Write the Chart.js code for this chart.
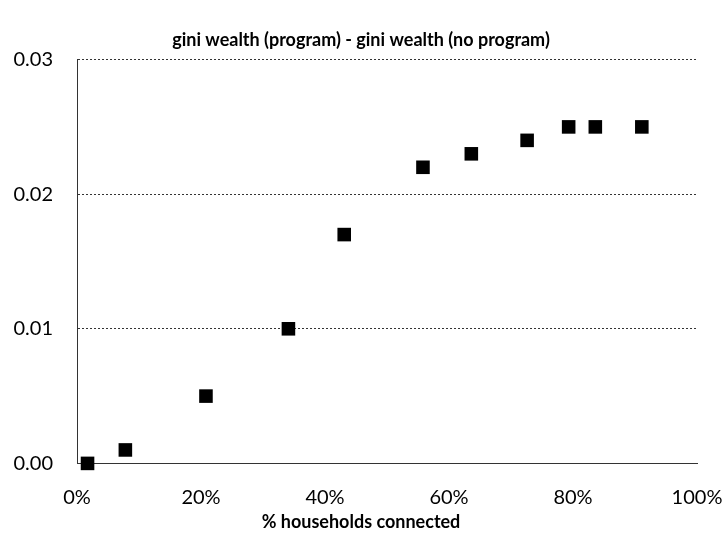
<!DOCTYPE html>
<html>
<head>
<meta charset="utf-8">
<script src="https://cdn.jsdelivr.net/npm/chart.js@4"></script>
<style>
  html, body { margin: 0; padding: 0; background: #fff; }
  #wrap { width: 723px; height: 536px; }
</style>
</head>
<body>
<div id="wrap"><canvas id="giniChart" width="723" height="536"></canvas></div>
<script>
// share of households connected vs change in wealth gini
let pctConnected = [0.017, 0.078, 0.208, 0.341, 0.431, 0.558, 0.636, 0.726, 0.793, 0.836, 0.911];
let giniDiff = [0.0, 0.001, 0.005, 0.010, 0.017, 0.022, 0.023, 0.024, 0.025, 0.025, 0.025];
let xTicks = [0, 0.2, 0.4, 0.6, 0.8, 1.0];
let yTicks = [0, 0.01, 0.02, 0.03];

let points = pctConnected.map((x, i) => ({ x: x, y: giniDiff[i] }));

let font = "Lato, 'Open Sans', sans-serif";

let ctx = document.getElementById('giniChart').getContext('2d');
let chart = new Chart(ctx, {
    type: 'scatter',
    data: {
        datasets: [{
            data: points,
            pointStyle: 'rect',
            pointRadius: 9.6,
            pointHoverRadius: 9.6,
            backgroundColor: '#000',
            borderColor: '#000',
            borderWidth: 0,
            clip: false
        }]
    },
    options: {
        responsive: false,
        animation: false,
        layout: { padding: { top: 29, left: 0, right: 1, bottom: 0 } },
        plugins: {
            legend: { display: false },
            tooltip: { enabled: false },
            title: {
                display: true,
                text: 'gini wealth (program) - gini wealth (no program)',
                color: '#000',
                font: { family: font, size: 18, weight: 'bold' },
                padding: { top: 0, bottom: 9 }
            },
            // x axis title, kept as a bottom subtitle so it centres on the canvas like the original
            subtitle: {
                display: true,
                position: 'bottom',
                text: '% households connected',
                color: '#000',
                font: { family: font, size: 18, weight: 'bold' },
                padding: { top: 0, bottom: 3 }
            }
        },
        scales: {
            x: {
                type: 'linear',
                min: 0,
                max: 1,
                afterBuildTicks: s => { s.ticks = xTicks.map(v => ({ value: v })); },
                afterFit: s => { s.height = 48; s.paddingLeft = 0; s.paddingRight = 26; },
                grid: { display: false, drawTicks: false },
                border: { display: true, color: '#333', dash: [2, 2] },
                ticks: {
                    color: '#000',
                    padding: 22,
                    maxRotation: 0,
                    font: { family: font, size: 20 },
                    callback: v => Math.round(v * 100) + '%'
                }
            },
            y: {
                min: 0,
                max: 0.03,
                afterBuildTicks: s => { s.ticks = yTicks.map(v => ({ value: v })); },
                afterFit: s => { s.width = 77; },
                grid: { color: '#333', lineWidth: 1, drawTicks: false },
                border: { display: true, color: '#333', dash: [2, 2] },
                ticks: {
                    color: '#000',
                    padding: 24,
                    font: { family: font, size: 20 },
                    callback: v => v.toFixed(2)
                }
            }
        }
    }
});
</script>
</body>
</html>
